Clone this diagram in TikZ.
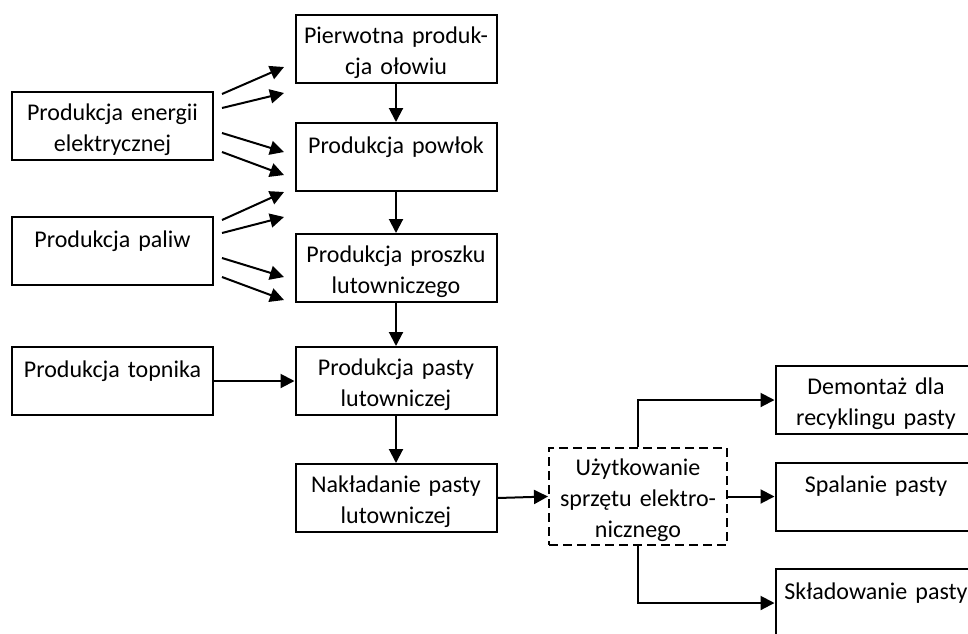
\documentclass[tikz,border=0pt]{standalone}
\usepackage{fontspec}
\setmainfont{Carlito}
\usetikzlibrary{arrows.meta}
\tikzset{
  box/.style={draw, line width=2pt, minimum width=201pt, minimum height=68pt,
    text width=199pt, align=center, inner sep=0pt,
    font=\fontsize{24}{31}\selectfont,
    execute at begin node=\rule{0pt}{23.5pt}},
  dbox/.style={box, dash pattern=on 9pt off 5pt, minimum width=178pt, minimum height=97pt, text width=176pt},
  arr/.style={line width=2pt, -{Triangle[length=14pt,width=14pt]}}
}
\begin{document}
\begin{tikzpicture}[x=1pt,y=-1pt]
\useasboundingbox (0,0) rectangle (968,633);
\clip (0,0) rectangle (968,633);
\node[box] (energia) at (112.5,126) {Produkcja energii\\elektrycznej};
\node[box] (paliw) at (112.5,251) {Produkcja paliw\\\mbox{}};
\node[box] (topnik) at (112.5,381) {Produkcja topnika\\\mbox{}};
\node[box] (pierw) at (396,49) {Pierwotna produk-\\cja ołowiu};
\node[box] (powlok) at (396,157) {Produkcja powłok\\\mbox{}};
\node[box] (proszek) at (396,268) {Produkcja proszku\\lutowniczego};
\node[box] (pasta) at (396,381) {Produkcja pasty\\lutowniczej};
\node[box] (naklad) at (396,498) {Nakładanie pasty\\lutowniczej};
\node[dbox] (uzyt) at (638,496.5) {Użytkowanie\\sprzętu elektro-\\nicznego};
\node[box] (demontaz) at (876,400) {Demontaż dla\\recyklingu pasty};
\node[box] (spalanie) at (876,496.5) {Spalanie pasty\\\mbox{}};
\node[box] (sklad) at (876,603) {Składowanie pasty\\\mbox{}};
% free arrows from energy and fuel production
\coordinate (a1s) at (222,94);  \coordinate (a1e) at (284,67);
\coordinate (a2s) at (222,108); \coordinate (a2e) at (284,93);
\coordinate (a3s) at (222,133); \coordinate (a3e) at (284,152);
\coordinate (a4s) at (222,152); \coordinate (a4e) at (284,175);
\coordinate (b1s) at (222,220); \coordinate (b1e) at (284,192);
\coordinate (b2s) at (222,233); \coordinate (b2e) at (284,217);
\coordinate (b3s) at (222,258); \coordinate (b3e) at (284,277);
\coordinate (b4s) at (222,277); \coordinate (b4e) at (284,300);
\foreach \p in {a1,a2,a3,a4,b1,b2,b3,b4}{\draw[arr] (\p s) -- (\p e);}
\draw[arr] (pierw) -- (powlok);
\draw[arr] (powlok) -- (proszek);
\draw[arr] (proszek) -- (pasta);
\draw[arr] (pasta) -- (naklad);
\draw[arr] (topnik) -- (pasta);
\draw[arr] (naklad.east) -- (uzyt.west);
\draw[arr] (uzyt.north) |- (demontaz.west);
\draw[arr] (uzyt) -- (spalanie);
\draw[arr] (uzyt.south) |- (sklad.west);
\end{tikzpicture}
\end{document}
